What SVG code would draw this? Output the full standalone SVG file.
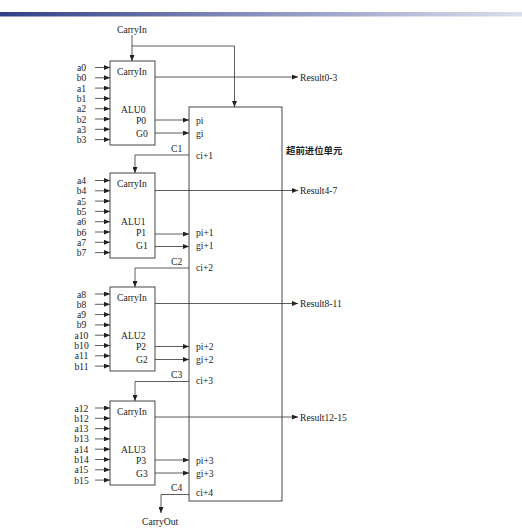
<svg xmlns="http://www.w3.org/2000/svg" width="522" height="530" viewBox="0 0 522 530">
<defs>
<linearGradient id="bar" x1="0" y1="0" x2="1" y2="0">
<stop offset="0" stop-color="#2f3e86"/>
<stop offset="0.5" stop-color="#8a92bf"/>
<stop offset="1" stop-color="#dcdeec"/>
</linearGradient>
<marker id="ah" viewBox="0 0 6 5" refX="6" refY="2.5" markerWidth="6" markerHeight="5" markerUnits="userSpaceOnUse" orient="auto">
<path d="M0,0 L6,2.5 L0,5 z" fill="#222"/>
</marker>
<style>
text{font-family:"Liberation Serif","Times New Roman",serif;font-size:9.6px;fill:#222}
.box{fill:none;stroke:#333;stroke-width:0.9}
.ln{fill:none;stroke:#333;stroke-width:0.8}
.ar{fill:none;stroke:#333;stroke-width:0.8;marker-end:url(#ah)}
.in{text-anchor:middle}
.cjk{font-family:"Noto Sans CJK SC",sans-serif;font-weight:bold;font-size:9.4px}
</style>
</defs>
<rect width="522" height="530" fill="#fff"/>
<rect x="0" y="12" width="522" height="4.5" fill="url(#bar)"/>

<g id="carryin-top"><text x="117" y="33">CarryIn</text></g>

<g id="alu0">
<rect class="box" x="110" y="61" width="45" height="84"/>
<text x="117" y="74.5">CarryIn</text><text x="121" y="112.5">ALU0</text><text x="136" y="124">P0</text><text x="136" y="137">G0</text>
<g class="in"><text x="81.5" y="71">a0</text><text x="81.5" y="81.3">b0</text><text x="81.5" y="91.6">a1</text><text x="81.5" y="101.9">b1</text><text x="81.5" y="112.2">a2</text><text x="81.5" y="122.5">b2</text><text x="81.5" y="132.8">a3</text><text x="81.5" y="143.1">b3</text></g>
</g>
<g id="alu1">
<rect class="box" x="110" y="173" width="45" height="85"/>
<text x="117" y="186.5">CarryIn</text><text x="121" y="224.5">ALU1</text><text x="136" y="236">P1</text><text x="136" y="249">G1</text>
<g class="in"><text x="81.5" y="184">a4</text><text x="81.5" y="194.3">b4</text><text x="81.5" y="204.6">a5</text><text x="81.5" y="214.9">b5</text><text x="81.5" y="225.2">a6</text><text x="81.5" y="235.5">b6</text><text x="81.5" y="245.8">a7</text><text x="81.5" y="256.1">b7</text></g>
</g>
<g id="alu2">
<rect class="box" x="110" y="287" width="45" height="84"/>
<text x="117" y="300.5">CarryIn</text><text x="121" y="338.5">ALU2</text><text x="136" y="350">P2</text><text x="136" y="363">G2</text>
<g class="in"><text x="81.5" y="297.5">a8</text><text x="81.5" y="307.8">b8</text><text x="81.5" y="318.1">a9</text><text x="81.5" y="328.4">b9</text><text x="81.5" y="338.7">a10</text><text x="81.5" y="349">b10</text><text x="81.5" y="359.3">a11</text><text x="81.5" y="369.6">b11</text></g>
</g>
<g id="alu3">
<rect class="box" x="110" y="401" width="45" height="84"/>
<text x="117" y="414.5">CarryIn</text><text x="121" y="452.5">ALU3</text><text x="136" y="464">P3</text><text x="136" y="477">G3</text>
<g class="in"><text x="81.5" y="411.5">a12</text><text x="81.5" y="421.8">b12</text><text x="81.5" y="432.1">a13</text><text x="81.5" y="442.4">b13</text><text x="81.5" y="452.7">a14</text><text x="81.5" y="463">b14</text><text x="81.5" y="473.3">a15</text><text x="81.5" y="483.6">b15</text></g>
</g>

<g id="cla">
<rect class="box" x="189" y="107" width="93" height="394"/>
<text class="cjk" x="286" y="153.5">超前进位单元</text>
<text x="196" y="123.5">pi</text><text x="196" y="136.5">gi</text>
<text x="196" y="159">ci+1</text>
<text x="196" y="236">pi+1</text><text x="196" y="249">gi+1</text>
<text x="196" y="271">ci+2</text>
<text x="196" y="350">pi+2</text><text x="196" y="363">gi+2</text>
<text x="196" y="384">ci+3</text>
<text x="196" y="464">pi+3</text><text x="196" y="477">gi+3</text>
<text x="196" y="496">ci+4</text>
</g>

<g id="outputs">
<text x="300" y="80.5">Result0-3</text>
<text x="300" y="194">Result4-7</text>
<text x="300" y="307">Result8-11</text>
<text x="300" y="420.5">Result12-15</text>
<text x="142" y="525">CarryOut</text>
</g>

<g id="connectors">
<path class="ar" d="M132,35 V61"/>
<path class="ar" d="M132,46 H234.5 V107"/>
<path class="ar" d="M155,77 H298"/>
<path class="ar" d="M155,190.5 H298"/>
<path class="ar" d="M155,303.5 H298"/>
<path class="ar" d="M155,417 H298"/>
<path class="ar" d="M155,120 H189"/><path class="ar" d="M155,133 H189"/>
<path class="ar" d="M155,234 H189"/><path class="ar" d="M155,246.5 H189"/>
<path class="ar" d="M155,346.5 H189"/><path class="ar" d="M155,359.5 H189"/>
<path class="ar" d="M155,460 H189"/><path class="ar" d="M155,473 H189"/>
<path class="ar" d="M189,155 H135 V173"/>
<path class="ar" d="M189,268 H135 V287"/>
<path class="ar" d="M189,381.5 H135 V401"/>
<path class="ar" d="M189,494.5 H161 V513"/>
<path class="ar" d="M95,67.5 H110"/><path class="ar" d="M95,77.8 H110"/><path class="ar" d="M95,88.1 H110"/><path class="ar" d="M95,98.4 H110"/><path class="ar" d="M95,108.7 H110"/><path class="ar" d="M95,119 H110"/><path class="ar" d="M95,129.3 H110"/><path class="ar" d="M95,139.6 H110"/>
<path class="ar" d="M95,180.5 H110"/><path class="ar" d="M95,190.8 H110"/><path class="ar" d="M95,201.1 H110"/><path class="ar" d="M95,211.4 H110"/><path class="ar" d="M95,221.7 H110"/><path class="ar" d="M95,232 H110"/><path class="ar" d="M95,242.3 H110"/><path class="ar" d="M95,252.6 H110"/>
<path class="ar" d="M95,294 H110"/><path class="ar" d="M95,304.3 H110"/><path class="ar" d="M95,314.6 H110"/><path class="ar" d="M95,324.9 H110"/><path class="ar" d="M95,335.2 H110"/><path class="ar" d="M95,345.5 H110"/><path class="ar" d="M95,355.8 H110"/><path class="ar" d="M95,366.1 H110"/>
<path class="ar" d="M95,408 H110"/><path class="ar" d="M95,418.3 H110"/><path class="ar" d="M95,428.6 H110"/><path class="ar" d="M95,438.9 H110"/><path class="ar" d="M95,449.2 H110"/><path class="ar" d="M95,459.5 H110"/><path class="ar" d="M95,469.8 H110"/><path class="ar" d="M95,480.1 H110"/>
<text x="171" y="151.5">C1</text>
<text x="171" y="264.5">C2</text>
<text x="171" y="378">C3</text>
<text x="171" y="491">C4</text>
</g>
</svg>
